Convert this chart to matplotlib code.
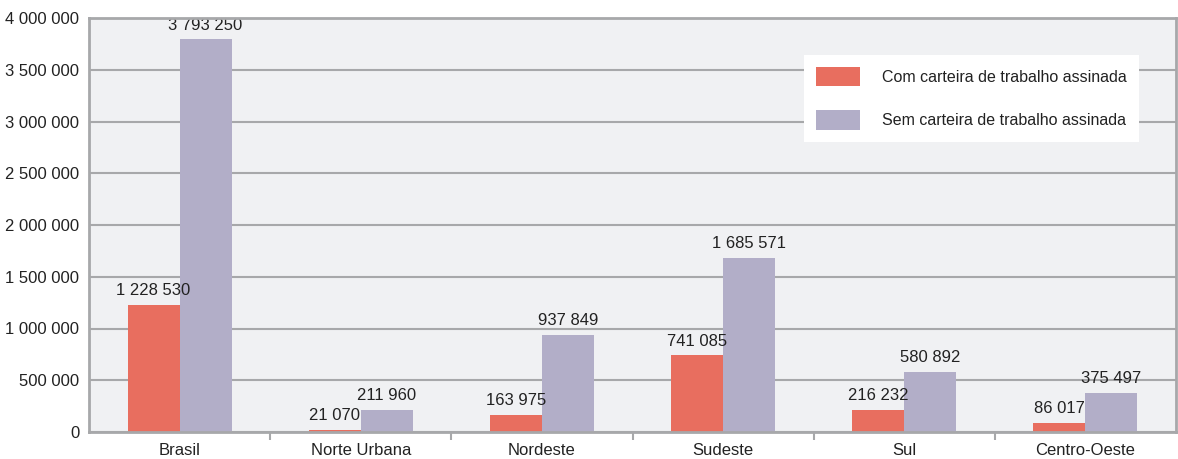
import matplotlib
matplotlib.use("Agg")
import matplotlib.pyplot as plt
import matplotlib.ticker as mticker
import numpy as np

plt.rcParams['font.family'] = ['Liberation Sans', 'DejaVu Sans']

regioes = ["Brasil", "Norte Urbana", "Nordeste", "Sudeste", "Sul", "Centro-Oeste"]
com_carteira = [1228530, 21070, 163975, 741085, 216232, 86017]
sem_carteira = [3793250, 211960, 937849, 1685571, 580892, 375497]
serie_labels = ["Com carteira de trabalho assinada", "Sem carteira de trabalho assinada"]

cor_com = "#e86e5f"
cor_sem = "#b2aec8"
cinza = "#a7a8aa"


def fmt(v):
    return f"{v:,.0f}".replace(",", " ")


fig = plt.figure(figsize=(11.78, 4.59), dpi=100)
ax = fig.add_axes([89 / 1178, 1 - 432 / 459, (1176 - 89) / 1178, (432 - 18) / 459])
ax.set_facecolor("#f0f1f3")

x = np.arange(len(regioes))
w = 0.287
b1 = ax.bar(x - w / 2, com_carteira, w, color=cor_com, label=serie_labels[0], zorder=3)
b2 = ax.bar(x + w / 2, sem_carteira, w, color=cor_sem, label=serie_labels[1], zorder=3)

# rótulos de valor acima das barras
for bars in (b1, b2):
    for r in bars:
        ax.annotate(fmt(r.get_height()), (r.get_x() + r.get_width() / 2, r.get_height()),
                    xytext=(0, 7), textcoords="offset points", ha="center", va="baseline",
                    fontsize=12, color="#222222", zorder=4)

ax.set_xlim(-0.5, len(regioes) - 0.5)
ax.set_ylim(0, 4000000)
ax.yaxis.set_major_locator(mticker.MultipleLocator(500000))
ax.yaxis.set_major_formatter(mticker.FuncFormatter(lambda v, p: fmt(v)))
ax.set_xticks(x)
ax.set_xticklabels(regioes)
ax.set_xticks(np.arange(0.5, len(regioes) - 0.5, 1), minor=True)
ax.tick_params(axis="x", which="major", length=0, pad=8, labelsize=12, labelcolor="#222222")
ax.tick_params(axis="x", which="minor", length=6, width=1.5, color=cinza, direction="out")
ax.tick_params(axis="y", length=0, pad=7, labelsize=12, labelcolor="#222222")

ax.grid(axis="y", color=cinza, linewidth=1.5, zorder=1)
for s in ax.spines.values():
    s.set_color(cinza)
    s.set_linewidth(2)
    s.set_zorder(5)

leg = ax.legend(loc="upper right", bbox_to_anchor=((1147 - 89) / 1087, (432 - 47) / 414),
                frameon=True, fancybox=False, edgecolor="white", facecolor="white",
                framealpha=1, fontsize=11.5, handlelength=2.75, handleheight=1.5,
                handletextpad=1.4, labelspacing=1.5, borderpad=0.75, labelcolor="#222222")
leg.get_frame().set_linewidth(0)

fig.savefig("out.png", dpi=100)
